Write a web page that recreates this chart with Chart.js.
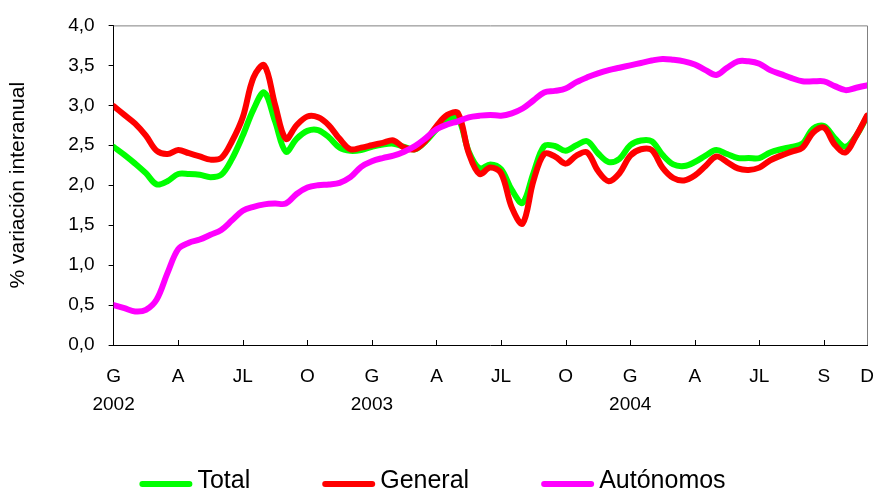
<!DOCTYPE html>
<html>
<head>
<meta charset="utf-8">
<script src="https://cdn.jsdelivr.net/npm/chart.js@4.4.0/dist/chart.umd.min.js"></script>
<style>
  html, body { margin: 0; padding: 0; background: #fff; }
  #wrap { width: 877px; height: 493px; }
</style>
</head>
<body>
<div id="wrap"><canvas id="chart" width="877" height="493"></canvas></div>
<script>
// afiliación: % variación interanual, ene 2002 – dic 2004 (lectura cada medio mes)
const months = [
  0, 0.5, 1, 1.5, 2, 2.5, 3, 3.5, 4, 4.5, 5, 5.5, 6, 6.5, 7, 7.5, 8, 8.5, 9, 9.5,
  10, 10.5, 11, 11.5, 12, 12.5, 13, 13.5, 14, 14.5, 15, 15.5, 16, 16.5, 17, 17.5,
  18, 18.5, 19, 19.5, 20, 20.5, 21, 21.5, 22, 22.5, 23, 23.5, 24, 24.5, 25, 25.5,
  26, 26.5, 27, 27.5, 28, 28.5, 29, 29.5, 30, 30.5, 31, 31.5, 32, 32.5, 33, 33.5,
  34, 34.5, 35,
];

const total = [
  2.48, 2.38, 2.27, 2.15, 2.01, 2.05, 2.14, 2.14, 2.13, 2.10, 2.13, 2.33, 2.62, 2.95, 3.16, 2.80,
  2.42, 2.58, 2.68, 2.69, 2.60, 2.47, 2.43, 2.44, 2.48, 2.51, 2.52, 2.48, 2.45, 2.55, 2.70, 2.82,
  2.84, 2.42, 2.21, 2.26, 2.20, 1.94, 1.78, 2.15, 2.49, 2.49, 2.43, 2.50, 2.55, 2.40, 2.29, 2.33,
  2.50, 2.56, 2.55, 2.38, 2.26, 2.24, 2.29, 2.37, 2.44, 2.39, 2.34, 2.34, 2.34, 2.41, 2.45, 2.48,
  2.52, 2.71, 2.74, 2.59, 2.48, 2.62, 2.86,
];

const general = [
  2.99, 2.88, 2.77, 2.62, 2.43, 2.39, 2.44, 2.40, 2.36, 2.32, 2.34, 2.55, 2.85, 3.35, 3.50, 3.01,
  2.58, 2.75, 2.86, 2.85, 2.75, 2.58, 2.45, 2.47, 2.50, 2.53, 2.56, 2.47, 2.45, 2.56, 2.74, 2.88,
  2.90, 2.40, 2.14, 2.22, 2.15, 1.72, 1.52, 2.05, 2.39, 2.36, 2.27, 2.37, 2.41, 2.18, 2.05, 2.15,
  2.37, 2.45, 2.44, 2.22, 2.09, 2.06, 2.12, 2.24, 2.36, 2.29, 2.21, 2.19, 2.22, 2.31, 2.37, 2.42,
  2.47, 2.66, 2.72, 2.51, 2.41, 2.62, 2.87,
];

const autonomos = [
  0.50, 0.46, 0.42, 0.44, 0.57, 0.90, 1.20, 1.28, 1.32, 1.38, 1.44, 1.56, 1.68, 1.73, 1.76, 1.77,
  1.77, 1.89, 1.97, 2.00, 2.01, 2.03, 2.10, 2.23, 2.30, 2.34, 2.37, 2.42, 2.49, 2.59, 2.70, 2.76,
  2.80, 2.85, 2.87, 2.88, 2.87, 2.90, 2.96, 3.06, 3.16, 3.18, 3.21, 3.29, 3.35, 3.40, 3.44, 3.47,
  3.50, 3.53, 3.56, 3.58, 3.57, 3.55, 3.51, 3.44, 3.38, 3.47, 3.55, 3.55, 3.52, 3.44, 3.39, 3.34,
  3.30, 3.30, 3.30, 3.24, 3.19, 3.22, 3.25,
];

// ejes
const tickMonths = [0, 3, 6, 9, 12, 15, 18, 21, 24, 27, 30, 33, 35];
const tickNames = ["G", "A", "JL", "O", "G", "A", "JL", "O", "G", "A", "JL", "S", "D"];
const yearMonths = [0, 12, 24];
const yearNames = ["2002", "2003", "2004"];

const FONT = '"Liberation Sans", Arial, sans-serif';
const COL = { total: "#00ff00", general: "#ff0000", auto: "#ff00ff" };

const pts = (arr) => arr.map((v, i) => ({ x: months[i], y: v }));

// marco gris arriba/derecha + marcas interiores del eje X
const framePlugin = {
  id: "frame",
  beforeDatasetsDraw(chart) {
    const { ctx, chartArea: a, scales } = chart;
    ctx.save();
    ctx.lineWidth = 1;
    ctx.strokeStyle = "#808080";
    ctx.beginPath();
    ctx.moveTo(a.left, a.top + 0.5);
    ctx.lineTo(a.right + 0.5, a.top + 0.5);
    ctx.lineTo(a.right + 0.5, a.bottom);
    ctx.stroke();
    ctx.strokeStyle = "#000";
    ctx.beginPath();
    for (const m of tickMonths.slice(1, -1)) {
      const x = Math.round(scales.x.getPixelForValue(m)) + 0.5;
      ctx.moveTo(x, a.bottom);
      ctx.lineTo(x, a.bottom - 5);
    }
    ctx.stroke();
    ctx.restore();
  },
};

// leyenda propia (separaciones como en el original)
const legendPlugin = {
  id: "legendBottom",
  afterDraw(chart) {
    const { ctx, width } = chart;
    const lineLen = 53, textGap = 5, itemGap = 72, y = 481;
    ctx.save();
    ctx.font = `25px ${FONT}`;
    ctx.textBaseline = "middle";
    const items = chart.data.datasets.map((d) => ({
      label: d.label,
      color: d.borderColor,
      w: ctx.measureText(d.label).width,
    }));
    const full = items.reduce((s, it) => s + lineLen + textGap + it.w, 0) + itemGap * (items.length - 1);
    let x = (width - full) / 2 - 6;
    for (const it of items) {
      ctx.strokeStyle = it.color;
      ctx.lineWidth = 6;
      ctx.lineCap = "round";
      ctx.beginPath();
      ctx.moveTo(x + 3, y + 3);
      ctx.lineTo(x + lineLen - 3, y + 3);
      ctx.stroke();
      ctx.fillStyle = "#000";
      ctx.fillText(it.label, x + lineLen + textGap, y);
      x += lineLen + textGap + it.w + itemGap;
    }
    ctx.restore();
  },
};

const line = (label, data, color, order) => ({
  label,
  data: pts(data),
  borderColor: color,
  backgroundColor: color,
  borderWidth: 6,
  pointRadius: 0,
  tension: 0.35,
  borderCapStyle: "round",
  borderJoinStyle: "round",
  order,
});

new Chart(document.getElementById("chart").getContext("2d"), {
  type: "line",
  data: {
    datasets: [
      line("Total", total, COL.total, 2),
      line("General", general, COL.general, 1),
      line("Autónomos", autonomos, COL.auto, 0),
    ],
  },
  options: {
    responsive: false,
    animation: false,
    layout: { autoPadding: false, padding: { left: 0, right: 10, top: 25, bottom: 56 } },
    plugins: { legend: { display: false }, tooltip: { enabled: false } },
    scales: {
      x: {
        type: "linear",
        min: 0,
        max: 35,
        afterBuildTicks: (axis) => {
          axis.ticks = tickMonths.map((v) => ({ value: v }));
        },
        // la "D" final puede sobresalir del área, como en el original
        afterFit: (axis) => {
          axis.paddingLeft = 0;
          axis.paddingRight = 0;
        },
        grid: { display: false, drawTicks: false },
        border: { display: true, color: "#000", width: 1 },
        ticks: {
          autoSkip: false,
          maxRotation: 0,
          padding: 18,
          color: "#000",
          font: { family: FONT, size: 19, lineHeight: 28 / 19 },
          callback: (v) => {
            const i = tickMonths.indexOf(v);
            const y = yearMonths.indexOf(v);
            return y >= 0 ? [tickNames[i], yearNames[y]] : tickNames[i];
          },
        },
      },
      y: {
        min: 0,
        max: 4,
        grid: { drawOnChartArea: false, tickLength: 5, color: "#000" },
        border: { display: true, color: "#000", width: 1 },
        ticks: {
          stepSize: 0.5,
          padding: 14,
          color: "#000",
          font: { family: FONT, size: 19 },
          callback: (v) => v.toFixed(1).replace(".", ","),
        },
        title: {
          display: true,
          text: "% variación interanual",
          color: "#000",
          font: { family: FONT, size: 21, lineHeight: 1.2 },
          padding: { top: 6, bottom: 23 },
        },
      },
    },
  },
  plugins: [framePlugin, legendPlugin],
});
</script>
</body>
</html>
